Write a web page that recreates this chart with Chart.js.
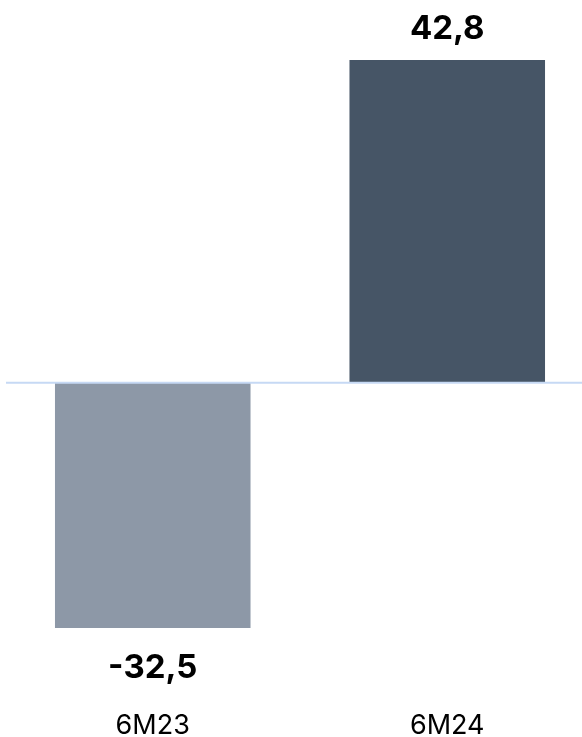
<!DOCTYPE html>
<html>
<head>
<meta charset="utf-8">
<script src="https://cdn.jsdelivr.net/npm/chart.js@4.4.0/dist/chart.umd.min.js"></script>
<style>
  html, body { margin: 0; padding: 0; background: #fff; overflow: hidden; }
  #wrap { position: relative; width: 600px; height: 737px; }
</style>
</head>
<body>
<div id="wrap"><canvas id="chart"></canvas></div>
<script>
// Данные графика
const categories = ['6M23', '6M24'];
const values = [-32.5, 42.8];
const barColors = ['#8d98a7', '#465566'];

// Формат числа с запятой
function fmt(v) {
  return v.toFixed(1).replace('.', ',');
}

// Нулевая линия на всю ширину
const zeroLine = {
  id: 'zeroLine',
  afterDatasetsDraw(chart) {
    const ctx = chart.ctx;
    const y = chart.scales.y.getPixelForValue(0);
    ctx.save();
    ctx.strokeStyle = '#c6d9f4';
    ctx.lineWidth = 2;
    ctx.beginPath();
    ctx.moveTo(6, y);
    ctx.lineTo(chart.width, y);
    ctx.stroke();
    ctx.restore();
  }
};

// Подписи значений над/под столбцами
const valueLabels = {
  id: 'valueLabels',
  afterDatasetsDraw(chart) {
    const ctx = chart.ctx;
    const meta = chart.getDatasetMeta(0);
    ctx.save();
    ctx.font = 'bold 33px Inter, "Liberation Sans", sans-serif';
    ctx.fillStyle = '#000';
    ctx.textAlign = 'center';
    ctx.textBaseline = 'middle';
    meta.data.forEach((bar, i) => {
      const v = values[i];
      const y = v >= 0 ? bar.y - 31 : bar.y + 40;
      ctx.fillText(fmt(v), bar.x, y);
    });
    ctx.restore();
  }
};

new Chart(document.getElementById('chart').getContext('2d'), {
  type: 'bar',
  data: {
    labels: categories,
    datasets: [{
      data: values,
      backgroundColor: barColors,
      borderWidth: 0,
      categoryPercentage: 1,
      barPercentage: 0.664
    }]
  },
  options: {
    responsive: true,
    maintainAspectRatio: false,
    animation: false,
    layout: { padding: { top: 60, left: 5.5, right: 5.5, bottom: 0 } },
    scales: {
      x: {
        grid: { display: false, drawTicks: false },
        border: { display: false },
        afterFit: (scale) => { scale.height = 109; },
        ticks: {
          color: '#000',
          padding: 84,
          font: { family: 'Inter, "Liberation Sans", sans-serif', size: 27, lineHeight: 1 }
        }
      },
      y: {
        display: false,
        min: -32.5,
        max: 42.8
      }
    },
    plugins: {
      legend: { display: false },
      tooltip: { enabled: false }
    }
  },
  plugins: [zeroLine, valueLabels]
});
</script>
</body>
</html>
